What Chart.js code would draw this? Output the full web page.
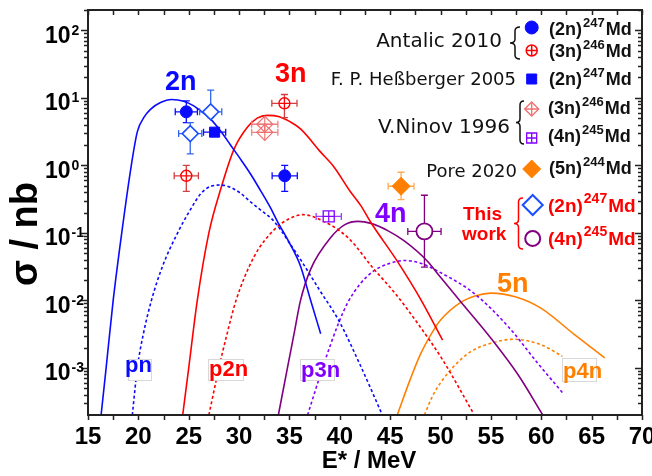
<!DOCTYPE html>
<html>
<head>
<meta charset="utf-8">
<script src="https://cdn.jsdelivr.net/npm/chart.js@4.4.1/dist/chart.umd.min.js"></script>
<style>
  html, body { margin: 0; padding: 0; background: #fff; }
  #wrap { width: 652px; height: 476px; }
</style>
</head>
<body>
<div id="wrap"><canvas id="xs" width="652" height="476"></canvas></div>
<script>
// Excitation functions for Md isotopes (E* in MeV, sigma in nb)

const xTickLabels = ["15","20","25","30","35","40","45","50","55","60","65","70"];
const yTickExps = ["-3","-2","-1","0","1","2"];

// calculated curves
const e2n  = [16.3,16.8,17.5,18.35,19.3,19.9,20.6,21.2,22.2,23.3,24.5,25.5,26.5,27.2,28.2,29.2,30.2,31.2,32.1,33.15,33.8,35.0,36.1,37.1,38.1];
const s2n  = [2.0e-4,1.0e-3,1.0e-2,0.10,1.0,3.16,5.25,6.76,8.5,9.44,8.91,7.59,5.89,4.79,3.16,1.95,1.20,0.72,0.43,0.23,0.148,0.071,0.032,0.010,0.0032];
const epn  = [19.4,19.9,20.5,21.3,22.4,23.9,25.0,26.2,27.2,28.2,29.2,30.2,31.2,32.2,33.3,34.2,35.0,36.2,38.0,39.9,42.0,44.1];
const spn  = [2.0e-4,1.0e-3,3.2e-3,0.010,0.032,0.10,0.20,0.38,0.49,0.51,0.468,0.380,0.282,0.214,0.158,0.107,0.0708,0.038,0.0141,0.0050,0.00112,2.2e-4];
const e3n  = [24.4,25.0,25.85,27.0,28.2,29.5,30.8,31.8,32.8,34.0,35.0,36.1,38.1,39.4,41.0,42.1,43.1,45.7,48.0,50.2];
const s3n  = [2.0e-4,1.0e-3,0.010,0.10,0.457,1.74,3.63,5.01,5.50,5.25,4.47,3.47,1.57,0.955,0.417,0.251,0.141,0.038,0.0105,0.00257];
const ep2n = [27.0,28.0,28.8,29.7,31.5,33.5,35.0,36.3,38.0,40.8,43.4,45.4,48.0,50.2,53.2];
const sp2n = [2.0e-4,1.0e-3,3.16e-3,0.010,0.0447,0.112,0.162,0.186,0.158,0.085,0.0288,0.0132,0.0040,0.00132,2.2e-4];
const e4n  = [33.9,34.8,35.45,36.1,37.1,39.1,40.5,41.8,43.1,44.8,46.4,48.7,50.0,52.0,55.0,57.7,60.15];
const s4n  = [2.0e-4,1.0e-3,3.16e-3,0.010,0.0288,0.0851,0.132,0.148,0.138,0.107,0.0759,0.038,0.0219,0.00955,0.00275,7.9e-4,2.0e-4];
const ep3n = [36.8,38.4,39.9,40.8,42.0,43.4,45.0,46.4,48.0,50.0,53.35,56.7,59.65,62.1];
const sp3n = [2.0e-4,1.12e-3,0.0047,0.0093,0.0174,0.0275,0.0355,0.0389,0.0355,0.0257,0.0126,0.0041,0.00117,4.3e-4];
const e5n  = [45.7,47.0,48.0,49.4,50.0,52.0,53.5,55.0,57.5,60.0,63.3,66.3];
const s5n  = [2.0e-4,6.8e-4,1.58e-3,3.8e-3,5.1e-3,9.3e-3,0.0117,0.0128,0.0112,0.0076,0.0031,0.0014];
const ep4n = [48.4,49.2,50.0,51.5,53.0,55.0,57.2,60.0,62.1];
const sp4n = [2.0e-4,3.8e-4,6.0e-4,1.12e-3,1.74e-3,2.31e-3,2.65e-3,2.19e-3,1.48e-3];

// measurements
const antalic2nE = [24.76, 34.53], antalic2nS = [6.2, 0.70], antalic2nDE = [1.1, 1.25], antalic2nLo = [4.3, 0.41], antalic2nHi = [9.0, 1.0];
const antalic3nE = [24.76, 34.5],  antalic3nS = [0.70, 8.3], antalic3nDE = [1.2, 1.25], antalic3nLo = [0.41, 5.1], antalic3nHi = [1.0, 11.2];
const hessE = [27.57], hessS = [3.1], hessDE = [1.1];
const ninov3nE = [32.55, 32.55], ninov3nS = [4.06, 3.08], ninov3nDE = [1.3, 1.3];
const ninov4nE = [38.9], ninov4nS = [0.175], ninov4nDE = [1.25];
const pore5nE = [46.08], pore5nS = [0.49], pore5nDE = [1.28], pore5nLo = [0.31], pore5nHi = [0.79];
const work2nE = [27.18, 25.15], work2nS = [6.2, 2.95], work2nDE = [1.1, 1.15], work2nLo = [5.1, 1.48], work2nHi = [13.0, 4.3];
const work4nE = [48.4], work4nS = [0.105], work4nDE = [1.65], work4nLo = [0.031], work4nHi = [0.36];

const BLUE = "#0a0aff", RED = "#ff0000", PURPLE = "#800080", VIOLET = "#8000ff", ORANGE = "#ff8000";
const SANS = '"Liberation Sans", Arial, sans-serif';
const VERD = '"DejaVu Sans", Verdana, sans-serif';

const pts = (xs, ys) => xs.map((v, i) => ({ x: v, y: ys[i] }));

function curve(xs, ys, color, dashed) {
  return {
    data: pts(xs, ys), showLine: true, pointRadius: 0, borderColor: color,
    borderWidth: 1.6, borderDash: dashed ? [3, 2.5] : [], fill: false,
    cubicInterpolationMode: "monotone", order: 2
  };
}

function marker(xs, ys, style, r, stroke, fill, lw, err) {
  return {
    data: pts(xs, ys), showLine: false, pointStyle: style, pointRadius: r,
    pointBorderColor: stroke, pointBackgroundColor: fill, pointBorderWidth: lw,
    order: 1, err: err
  };
}

// error bars go under each marker set
const errPlugin = {
  id: "errbars",
  beforeDatasetDraw(chart, args) {
    const ds = chart.data.datasets[args.index];
    if (!ds.err) return;
    const { ctx, scales: { x, y } } = chart;
    const e = ds.err, cap = 3.5;
    ctx.save();
    ctx.strokeStyle = e.color;
    ctx.lineWidth = 1.3;
    ctx.beginPath();
    ds.data.forEach((p, i) => {
      const px = x.getPixelForValue(p.x), py = y.getPixelForValue(p.y);
      if (e.dx) {
        const x0 = x.getPixelForValue(p.x - e.dx[i]), x1 = x.getPixelForValue(p.x + e.dx[i]);
        ctx.moveTo(x0, py); ctx.lineTo(x1, py);
        ctx.moveTo(x0, py - cap); ctx.lineTo(x0, py + cap);
        ctx.moveTo(x1, py - cap); ctx.lineTo(x1, py + cap);
      }
      if (e.lo) {
        const y0 = y.getPixelForValue(e.lo[i]), y1 = y.getPixelForValue(e.hi[i]);
        ctx.moveTo(px, y0); ctx.lineTo(px, y1);
        ctx.moveTo(px - cap, y0); ctx.lineTo(px + cap, y0);
        ctx.moveTo(px - cap, y1); ctx.lineTo(px + cap, y1);
      }
    });
    ctx.stroke();
    ctx.restore();
  }
};

function mark(ctx, kind, x, y, r, stroke, fill, lw) {
  ctx.save();
  ctx.lineWidth = lw; ctx.strokeStyle = stroke; ctx.fillStyle = fill;
  ctx.beginPath();
  if (kind.startsWith("circle")) ctx.arc(x, y, r, 0, Math.PI * 2);
  else if (kind.startsWith("square")) ctx.rect(x - r, y - r, 2 * r, 2 * r);
  else { ctx.moveTo(x, y - r); ctx.lineTo(x + r, y); ctx.lineTo(x, y + r); ctx.lineTo(x - r, y); ctx.closePath(); }
  ctx.fill(); ctx.stroke();
  if (kind.endsWith("plus")) {
    ctx.beginPath();
    ctx.moveTo(x - r, y); ctx.lineTo(x + r, y);
    ctx.moveTo(x, y - r); ctx.lineTo(x, y + r);
    ctx.stroke();
  }
  ctx.restore();
}

function brace(ctx, x, y0, y1, w, color) {
  const m = (y0 + y1) / 2, q = 4, h = x + w / 2;
  ctx.save();
  ctx.strokeStyle = color; ctx.lineWidth = 1.5;
  ctx.beginPath();
  ctx.moveTo(x + w, y0);
  ctx.quadraticCurveTo(h, y0, h, y0 + q);
  ctx.lineTo(h, m - q);
  ctx.quadraticCurveTo(h, m, x, m);
  ctx.quadraticCurveTo(h, m, h, m + q);
  ctx.lineTo(h, y1 - q);
  ctx.quadraticCurveTo(h, y1, x + w, y1);
  ctx.stroke();
  ctx.restore();
}

function isotope(ctx, x, y, reac, mass, color, size) {
  ctx.fillStyle = color;
  ctx.textAlign = "left";
  ctx.font = `bold ${size}px ${SANS}`;
  ctx.fillText(reac, x, y);
  x += ctx.measureText(reac).width + 1;
  ctx.font = `bold ${Math.round(size * 0.72)}px ${SANS}`;
  ctx.fillText(mass, x, y - size * 0.45);
  x += ctx.measureText(mass).width + 1;
  ctx.font = `bold ${size}px ${SANS}`;
  ctx.fillText("Md", x, y);
}

function boxLabel(ctx, txt, color, tx, ty, bx, by, bw, bh) {
  ctx.fillStyle = "#fff"; ctx.strokeStyle = "#d8d8d8"; ctx.lineWidth = 1;
  ctx.fillRect(bx, by, bw, bh); ctx.strokeRect(bx + 0.5, by + 0.5, bw, bh);
  ctx.fillStyle = color; ctx.font = `bold 22px ${SANS}`; ctx.textAlign = "left";
  ctx.fillText(txt, tx, ty);
}

const decor = {
  id: "decor",
  afterDraw(chart) {
    const { ctx, chartArea: a, scales: { x, y } } = chart;
    ctx.save();

    // frame and ticks
    ctx.strokeStyle = "#222";
    ctx.lineWidth = 2;
    ctx.strokeRect(a.left, a.top, a.right - a.left, a.bottom - a.top);
    ctx.lineWidth = 1.5;
    ctx.beginPath();
    xTickLabels.forEach(t => {
      [+t, +t + 2.5].forEach(v => {
        if (v > 70) return;
        const px = Math.round(x.getPixelForValue(v)) + 0.5;
        ctx.moveTo(px, a.bottom); ctx.lineTo(px, a.bottom + 5);
        ctx.moveTo(px, a.top); ctx.lineTo(px, a.top + 5);
      });
    });
    for (let n = -4; n <= 2; n++) {
      for (let k = 1; k <= 9; k++) {
        const v = k * Math.pow(10, n);
        if (v < 2e-4 * 1.01 || v > 200 * 1.01) continue;
        const py = Math.round(y.getPixelForValue(v)) + 0.5;
        const len = k === 1 ? 7 : 4;
        ctx.moveTo(a.left - len, py); ctx.lineTo(a.left, py);
        ctx.moveTo(a.right - len, py); ctx.lineTo(a.right, py);
      }
    }
    ctx.stroke();

    // tick labels
    ctx.fillStyle = "#000";
    ctx.font = `bold 24px ${SANS}`;
    ctx.textAlign = "center";
    xTickLabels.forEach(t => ctx.fillText(t, x.getPixelForValue(+t), 443.5));
    yTickExps.forEach(ex => {
      const py = y.getPixelForValue(Math.pow(10, +ex));
      ctx.textAlign = "left";
      ctx.font = `bold 23px ${SANS}`;
      ctx.fillText("10", 45, py + 12.5);
      const w = ctx.measureText("10").width;
      ctx.font = `bold 14px ${SANS}`;
      ctx.fillText(ex, 45 + w + 1, py + 4.5);
    });

    // axis titles
    ctx.textAlign = "center";
    ctx.font = `bold 24px ${SANS}`;
    ctx.fillText("E* / MeV", 369, 468);
    ctx.save();
    ctx.translate(37, 234);
    ctx.rotate(-Math.PI / 2);
    ctx.font = `bold 38px ${SANS}`;
    ctx.fillText("σ / nb", 0, 0);
    ctx.restore();

    // curve labels
    ctx.textAlign = "left";
    ctx.font = `bold 27px ${SANS}`;
    ctx.fillStyle = BLUE;   ctx.fillText("2n", 165, 90);
    ctx.fillStyle = RED;    ctx.fillText("3n", 275, 82);
    ctx.fillStyle = VIOLET; ctx.fillText("4n", 375, 222);
    ctx.fillStyle = ORANGE; ctx.fillText("5n", 497, 292);
    boxLabel(ctx, "pn",  BLUE,   125, 372, 128, 359, 23, 21);
    boxLabel(ctx, "p2n", RED,    209, 376, 208, 359, 35, 21);
    boxLabel(ctx, "p3n", VIOLET, 301, 377, 300, 359, 34, 21);
    boxLabel(ctx, "p4n", ORANGE, 563, 378, 562, 358, 34, 23);

    // legend
    ctx.fillStyle = "#111";
    ctx.textAlign = "right";
    ctx.font = `20px ${VERD}`; ctx.fillText("Antalic 2010", 502, 46.5);
    ctx.font = `18px ${VERD}`; ctx.fillText("F. P. Heßberger 2005", 516, 85);
    ctx.font = `20px ${VERD}`; ctx.fillText("V.Ninov 1996", 510, 133);
    ctx.font = `18px ${VERD}`; ctx.fillText("Pore 2020", 517, 176.5);
    brace(ctx, 510, 27, 59, 10, "#111");
    brace(ctx, 516, 101, 144, 8, "#111");
    brace(ctx, 514, 198, 249, 9, RED);

    mark(ctx, "circle", 531.7, 27.5, 6.5, BLUE, BLUE, 1);
    mark(ctx, "circleplus", 531.7, 50.5, 5.5, RED, "#fff", 1.5);
    mark(ctx, "square", 531.7, 79, 5, BLUE, BLUE, 1);
    mark(ctx, "diamondplus", 531.7, 109, 7, "#f07070", "#fff", 1.3);
    mark(ctx, "squareplus", 531.7, 138, 5, VIOLET, "#fff", 1.3);
    mark(ctx, "diamond", 531.7, 169, 9, ORANGE, ORANGE, 1);
    mark(ctx, "diamond", 532.7, 205, 10, "#1a4fff", "#fff", 2);
    mark(ctx, "circle", 532.7, 238.5, 7.5, PURPLE, "#fff", 2);

    isotope(ctx, 549, 35, "(2n)", "247", "#111", 18);
    isotope(ctx, 549, 57, "(3n)", "246", "#111", 18);
    isotope(ctx, 549, 85, "(2n)", "247", "#111", 18);
    isotope(ctx, 548, 114, "(3n)", "246", "#111", 18);
    isotope(ctx, 548, 142, "(4n)", "245", "#111", 18);
    isotope(ctx, 549, 174, "(5n)", "244", "#111", 18);
    isotope(ctx, 548, 212, "(2n)", "247", RED, 19);
    isotope(ctx, 548, 245, "(4n)", "245", RED, 19);

    ctx.fillStyle = RED;
    ctx.textAlign = "left";
    ctx.font = `bold 19px ${SANS}`;
    ctx.fillText("This", 463, 220);
    ctx.fillText("work", 462, 240);

    ctx.restore();
  }
};

new Chart(document.getElementById("xs"), {
  type: "scatter",
  data: {
    datasets: [
      marker(work4nE, work4nS, "circle", 8, PURPLE, "#fff", 1.8, { color: PURPLE, dx: work4nDE, lo: work4nLo, hi: work4nHi }),
      marker(work2nE, work2nS, "rectRot", 8, "#1a4fff", "#fff", 1.6, { color: "#3366ee", dx: work2nDE, lo: work2nLo, hi: work2nHi }),
      marker(pore5nE, pore5nS, "rectRot", 9, ORANGE, ORANGE, 1, { color: "#ffaa55", dx: pore5nDE, lo: pore5nLo, hi: pore5nHi }),
      marker(ninov4nE, ninov4nS, "cross", 5.5, VIOLET, VIOLET, 1.2),
      marker(ninov4nE, ninov4nS, "rect", 7.8, VIOLET, "#fff", 1.3, { color: "#9a40ff", dx: ninov4nDE }),
      marker(ninov3nE, ninov3nS, "cross", 8, "#f07070", "#f07070", 1.1),
      marker(ninov3nE, ninov3nS, "rectRot", 8, "#f07070", "rgba(255,255,255,0)", 1.2, { color: "#f08080", dx: ninov3nDE }),
      marker(hessE, hessS, "rect", 7.1, BLUE, BLUE, 1, { color: BLUE, dx: hessDE }),
      marker(antalic3nE, antalic3nS, "cross", 5.5, RED, RED, 1.3),
      marker(antalic3nE, antalic3nS, "circle", 5.5, RED, "#fff", 1.4, { color: "#d04040", dx: antalic3nDE, lo: antalic3nLo, hi: antalic3nHi }),
      marker(antalic2nE, antalic2nS, "circle", 6, BLUE, BLUE, 1, { color: BLUE, dx: antalic2nDE, lo: antalic2nLo, hi: antalic2nHi }),
      curve(e2n, s2n, BLUE, false),
      curve(epn, spn, BLUE, true),
      curve(e3n, s3n, RED, false),
      curve(ep2n, sp2n, RED, true),
      curve(e4n, s4n, PURPLE, false),
      curve(ep3n, sp3n, VIOLET, true),
      curve(e5n, s5n, ORANGE, false),
      curve(ep4n, sp4n, ORANGE, true)
    ]
  },
  options: {
    responsive: false,
    animation: false,
    layout: { padding: { left: 88, right: 10, top: 7, bottom: 61 } },
    plugins: { legend: { display: false }, tooltip: { enabled: false } },
    scales: {
      x: { type: "linear", min: 15, max: 70, display: false },
      y: { type: "logarithmic", min: 2e-4, max: 200, display: false }
    }
  },
  plugins: [errPlugin, decor]
});
</script>
</body>
</html>
